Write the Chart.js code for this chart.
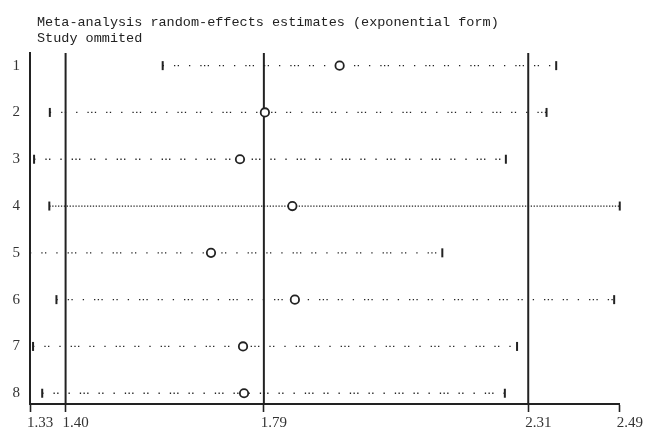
<!DOCTYPE html>
<html>
<head>
<meta charset="utf-8">
<title>Meta-analysis influence plot</title>
<script src="https://cdn.jsdelivr.net/npm/chart.js@4.4.1/dist/chart.umd.min.js"></script>
<style>
  html, body { margin: 0; padding: 0; background: #ffffff; }
  #wrap { width: 648px; height: 428px; }
</style>
</head>
<body>
<div id="wrap"><canvas id="chart" width="648" height="428"></canvas></div>
<script>
// Header text
const headerLines = [
  'Meta-analysis random-effects estimates (exponential form)',
  'Study ommited'
];

// Omitted study labels (one row each)
const studies = ['1', '2', '3', '4', '5', '6', '7', '8'];

// Pooled estimate with one study left out, and its 95% CI bounds
const estimate = [1.939, 1.792, 1.743, 1.846, 1.686, 1.851, 1.749, 1.751];
const lowerCI  = [1.591, 1.369, 1.338, 1.368, 1.330, 1.382, 1.336, 1.354];
const upperCI  = [2.365, 2.346, 2.266, 2.490, 2.141, 2.479, 2.288, 2.264];

// Overall pooled estimate and its CI (vertical reference lines)
const overallLines = [1.40, 1.79, 2.31];

// X axis tick labels
const xTicks = [1.33, 1.40, 1.79, 2.31, 2.49];

const INK = '#222222';
const rowTop = 0.73, rowBottom = 8.23;

// Dotted CI segments, one per omitted study
const dotPattern = [1.3, 10, 1.3, 2.4, 1.3, 10, 1.3, 10, 1.3, 2.4, 1.3, 2.4];
const denseDots = [1.3, 1.6];

const ciLines = studies.map((s, i) => ({
  type: 'line',
  label: 'CI ' + s,
  data: [{ x: lowerCI[i], y: i + 1 }, { x: upperCI[i], y: i + 1 }],
  borderColor: INK,
  borderWidth: 1.3,
  borderDash: (upperCI[i] - lowerCI[i] > 1.1) ? denseDots : dotPattern,
  pointRadius: 0,
  fill: false,
  clip: false,
  order: 2
}));

const refLines = overallLines.map(v => ({
  type: 'line',
  label: 'ref ' + v,
  data: [{ x: v, y: rowTop }, { x: v, y: rowBottom }],
  borderColor: INK,
  borderWidth: 2,
  pointRadius: 0,
  fill: false,
  order: 3
}));

const caps = {
  type: 'scatter',
  label: 'CI limits',
  data: studies.flatMap((s, i) => [{ x: lowerCI[i], y: i + 1 }, { x: upperCI[i], y: i + 1 }]),
  pointStyle: 'line',
  rotation: 90,
  pointRadius: 4.5,
  borderWidth: 2,
  borderColor: INK,
  clip: false,
  order: 1
};

const points = {
  type: 'scatter',
  label: 'Estimate',
  data: studies.map((s, i) => ({ x: estimate[i], y: i + 1 })),
  pointStyle: 'circle',
  pointRadius: 4.2,
  borderWidth: 1.8,
  borderColor: INK,
  backgroundColor: '#ffffff',
  clip: false,
  order: 0
};

const headerPlugin = {
  id: 'header',
  beforeDraw(chart) {
    const ctx = chart.ctx;
    ctx.save();
    ctx.fillStyle = '#ffffff';
    ctx.fillRect(0, 0, chart.width, chart.height);
    ctx.restore();
  },
  afterDraw(chart) {
    const ctx = chart.ctx;
    ctx.save();
    ctx.fillStyle = INK;
    ctx.font = '13.5px "Liberation Mono", monospace';
    ctx.textBaseline = 'alphabetic';
    ctx.textAlign = 'left';
    ctx.fillText(headerLines[0], 37, 25.5);
    ctx.fillText(headerLines[1], 37, 41.5);
    ctx.restore();
  }
};

new Chart(document.getElementById('chart'), {
  data: { datasets: [...refLines, ...ciLines, caps, points] },
  options: {
    responsive: false,
    animation: false,
    devicePixelRatio: 1,
    layout: { padding: { top: 53, right: 26, left: 0, bottom: 0 } },
    plugins: { legend: { display: false }, tooltip: { enabled: false }, title: { display: false } },
    scales: {
      x: {
        type: 'linear',
        min: xTicks[0],
        max: xTicks[xTicks.length - 1],
        afterBuildTicks: scale => { scale.ticks = xTicks.map(v => ({ value: v })); },
        afterFit: scale => { scale.height = 24; },
        ticks: {
          autoSkip: false,
          maxRotation: 0,
          align: 'start',
          labelOffset: -3,
          padding: 2,
          color: '#333333',
          font: { family: '"Liberation Serif", serif', size: 15 },
          callback: v => Number(v).toFixed(2)
        },
        grid: { drawOnChartArea: false, drawTicks: true, tickLength: 8, tickColor: INK, tickWidth: 1.6 },
        border: { display: true, color: INK, width: 2 }
      },
      y: {
        type: 'linear',
        reverse: true,
        min: rowTop,
        max: rowBottom,
        afterBuildTicks: scale => { scale.ticks = studies.map((s, i) => ({ value: i + 1 })); },
        afterFit: scale => { scale.width = 30; },
        ticks: {
          autoSkip: false,
          padding: 10,
          color: '#333333',
          font: { family: '"Liberation Serif", serif', size: 15 },
          callback: v => studies[Math.round(v) - 1]
        },
        grid: { drawOnChartArea: false, drawTicks: false },
        border: { display: true, color: INK, width: 2 }
      }
    }
  },
  plugins: [headerPlugin]
});
</script>
</body>
</html>
